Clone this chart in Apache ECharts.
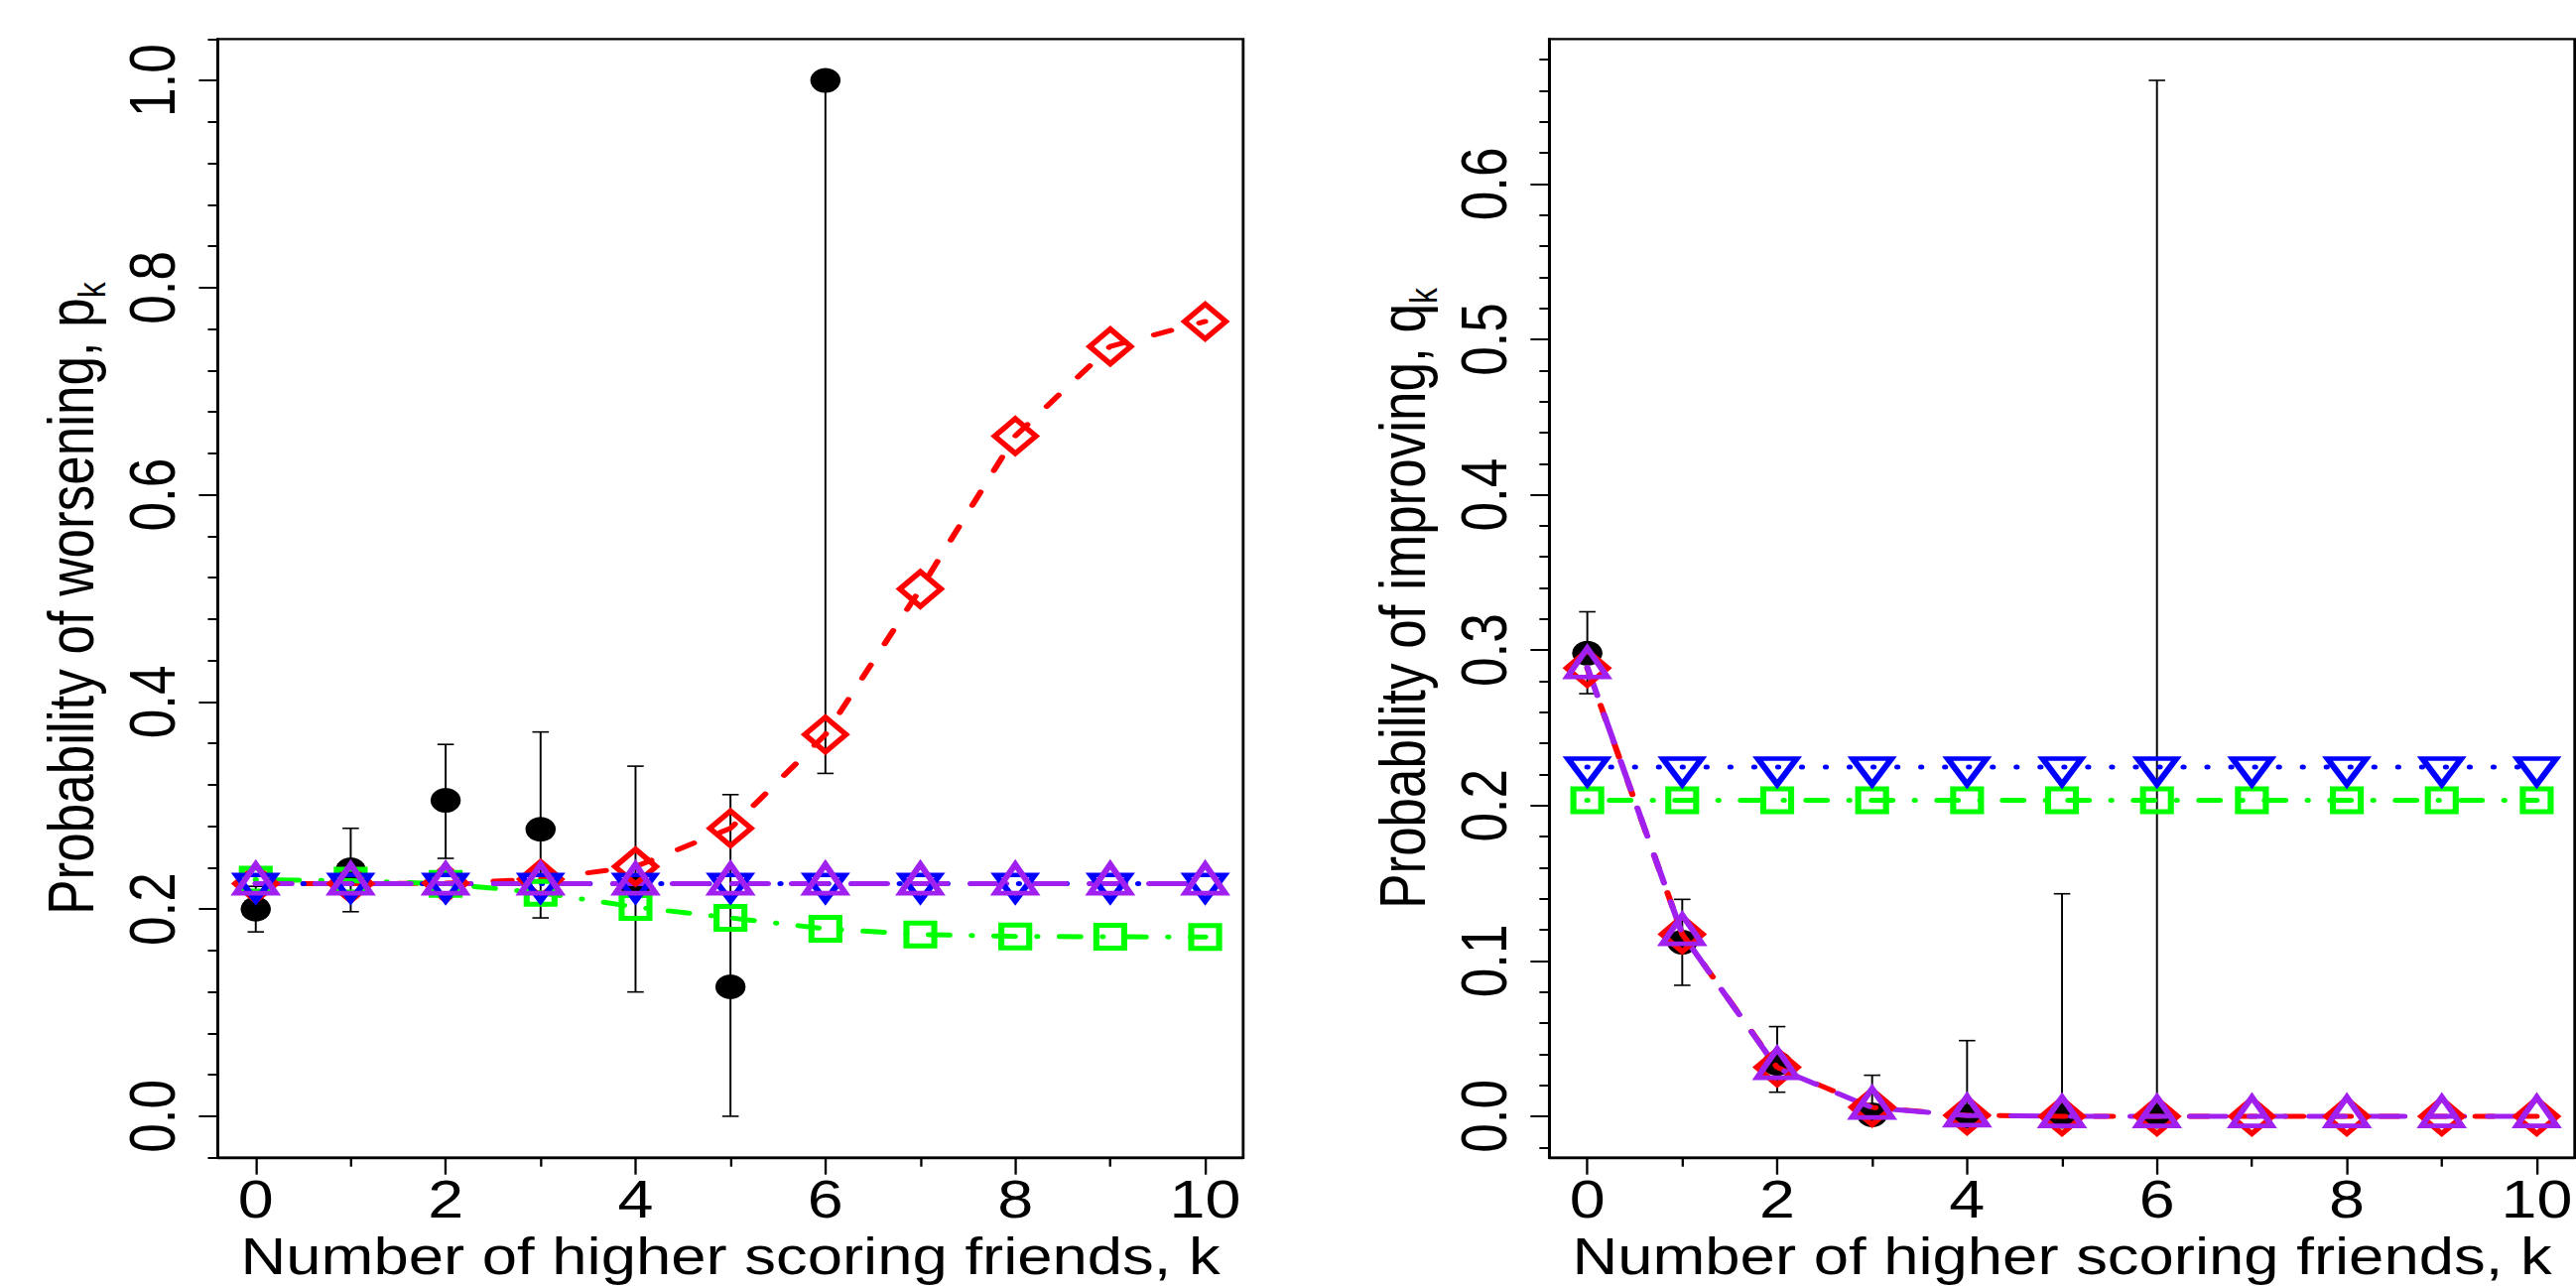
<!DOCTYPE html>
<html>
<head>
<meta charset="utf-8">
<title>Probability of worsening / improving</title>
<script src="https://cdn.jsdelivr.net/npm/echarts@6/dist/echarts.min.js"></script>
<style>
  html, body { margin: 0; padding: 0; background: #fff; overflow: hidden; }
  /* the reference plot is stretched sideways, so draw it narrower and stretch it */
  #chart { width: 2128px; height: 1297px; transform: scaleX(1.22); transform-origin: 0 0; }
</style>
</head>
<body>
<div id="chart"></div>
<script>
// number of higher scoring friends
var ks = [0, 1, 2, 3, 4, 5, 6, 7, 8, 9, 10];
var kObs = [0, 1, 2, 3, 4, 5, 6];

// left panel: probability of worsening p_k
var obsW = [0.200, 0.238, 0.305, 0.277, 0.222, 0.125, 1.000];
var loW  = [0.178, 0.1975, 0.249, 0.1915, 0.120, 0.000, 0.331];
var hiW  = [0.222, 0.278, 0.359, 0.371, 0.338, 0.3105, 1.000];
var redW    = [0.2247, 0.2247, 0.2250, 0.229, 0.241, 0.278, 0.3685, 0.509, 0.6567, 0.7432, 0.7673];
var greenW  = [0.2285, 0.2275, 0.2244, 0.2158, 0.2020, 0.1915, 0.1810, 0.1755, 0.1736, 0.1733, 0.1730];
var blueW   = [0.2247, 0.2247, 0.2247, 0.2247, 0.2247, 0.2247, 0.2247, 0.2247, 0.2247, 0.2247, 0.2247];
var purpleW = [0.2247, 0.2247, 0.2247, 0.2247, 0.2247, 0.2247, 0.2247, 0.2247, 0.2247, 0.2247, 0.2247];

// right panel: probability of improving q_k
var obsI = [0.298, 0.112, 0.034, 0.001, 0.000, 0.000, 0.000];
var loI  = [0.272, 0.0843, 0.0155, 0.000, 0.000, 0.000, 0.000];
var hiI  = [0.3247, 0.1396, 0.0577, 0.0264, 0.0487, 0.1432, 0.6667];
var redI    = [0.2885, 0.1172, 0.0315, 0.0058, 0.0006, 0, 0, 0, 0, 0, 0];
var greenI  = [0.2034, 0.2034, 0.2034, 0.2034, 0.2034, 0.2034, 0.2034, 0.2034, 0.2034, 0.2034, 0.2034];
var blueI   = [0.2247, 0.2247, 0.2247, 0.2247, 0.2247, 0.2247, 0.2247, 0.2247, 0.2247, 0.2247, 0.2247];
var purpleI = [0.2889, 0.1172, 0.0310, 0.0055, 0.0005, 0, 0, 0, 0, 0, 0];

// ticks
var xMajor = [0, 2, 4, 6, 8, 10];
var xMinor = [1, 3, 5, 7, 9];
var yMajorW = [0, 0.2, 0.4, 0.6, 0.8, 1.0];
var yMinorW = [-0.04, 0.04, 0.08, 0.12, 0.16, 0.24, 0.28, 0.32, 0.36, 0.44, 0.48, 0.52, 0.56,
               0.64, 0.68, 0.72, 0.76, 0.84, 0.88, 0.92, 0.96, 1.04];
var yMajorI = [0, 0.1, 0.2, 0.3, 0.4, 0.5, 0.6];
var yMinorI = [-0.02, 0.02, 0.04, 0.06, 0.08, 0.12, 0.14, 0.16, 0.18, 0.22, 0.24, 0.26, 0.28,
               0.32, 0.34, 0.36, 0.38, 0.42, 0.44, 0.46, 0.48, 0.52, 0.54, 0.56, 0.58,
               0.62, 0.64, 0.66, 0.68];

var FONT = "'Liberation Sans', Arial, Helvetica, sans-serif";
var RED = '#FF0000', GREEN = '#00FF00', BLUE = '#0000FF', PURPLE = '#A020F0';

function pairs(xs, ys) {
  return xs.map(function (x, i) { return [x, ys[i]]; });
}
function bars(xs, lo, hi) {
  return xs.map(function (x, i) { return [x, lo[i], hi[i]]; });
}

function xAxes(gi) {
  return [{
    type: 'value', gridIndex: gi, min: -0.4, max: 10.4, position: 'bottom',
    axisLine: { show: true, onZero: false, lineStyle: { color: '#000', width: 2.3 } },
    axisTick: { show: true, customValues: xMajor, length: 17, lineStyle: { color: '#000', width: 1.9 } },
    axisLabel: { show: true, customValues: xMajor, margin: 15, fontSize: 53, fontFamily: FONT, color: '#000' },
    splitLine: { show: false },
    name: 'Number of higher scoring friends, k', nameLocation: 'middle', nameGap: 77,
    nameTextStyle: { fontSize: 52, lineHeight: 44, fontFamily: FONT, color: '#000' }
  }, {
    type: 'value', gridIndex: gi, min: -0.4, max: 10.4, position: 'bottom',
    axisLine: { show: false, onZero: false },
    axisTick: { show: true, customValues: xMinor, length: 9, lineStyle: { color: '#000', width: 1.9 } },
    axisLabel: { show: false },
    splitLine: { show: false }
  }];
}

function yAxes(gi, min, max, major, minor, title, sub) {
  return [{
    type: 'value', gridIndex: gi, min: min, max: max, position: 'left',
    axisLine: { show: true, onZero: false, lineStyle: { color: '#000', width: 2.3 } },
    axisTick: { show: true, customValues: major, length: 15.6, lineStyle: { color: '#000', width: 2 } },
    axisLabel: {
      show: true, customValues: major, rotate: 90, margin: 27.5,
      fontSize: 53, fontFamily: FONT, color: '#000',
      formatter: function (v) { return v.toFixed(1); }
    },
    splitLine: { show: false },
    name: '{a|' + title + '}{b|' + sub + '}', nameLocation: 'middle', nameRotate: 90, nameGap: 95,
    nameTextStyle: {
      fontSize: 53, fontFamily: FONT, color: '#000',
      rich: {
        a: { fontSize: 53, lineHeight: 53, fontFamily: FONT, color: '#000', verticalAlign: 'top' },
        b: { fontSize: 32, lineHeight: 32, fontFamily: FONT, color: '#000', verticalAlign: 'top', padding: [28, 0, 0, 0] }
      }
    }
  }, {
    type: 'value', gridIndex: gi, min: min, max: max, position: 'left',
    axisLine: { show: false, onZero: false },
    axisTick: { show: true, customValues: minor, length: 8.2, lineStyle: { color: '#000', width: 2 } },
    axisLabel: { show: false },
    splitLine: { show: false }
  }];
}

// vertical error bar with small caps
function renderBar(params, api) {
  var x = api.value(0);
  var top = api.coord([x, api.value(2)]);
  var bot = api.coord([x, api.value(1)]);
  var cw = 6.8;
  var st = { stroke: '#000', lineWidth: 1.6 };
  return {
    type: 'group',
    children: [
      { type: 'line', shape: { x1: top[0], y1: top[1], x2: bot[0], y2: bot[1] }, style: st },
      { type: 'line', shape: { x1: top[0] - cw, y1: top[1], x2: top[0] + cw, y2: top[1] }, style: st },
      { type: 'line', shape: { x1: bot[0] - cw, y1: bot[1], x2: bot[0] + cw, y2: bot[1] }, style: st }
    ]
  };
}

function modelLine(ax, ys, color, dash, symbol, size, offset) {
  return {
    type: 'line', xAxisIndex: ax, yAxisIndex: ax,
    data: pairs(ks, ys),
    symbol: symbol, symbolSize: size, symbolOffset: offset, showSymbol: true,
    itemStyle: { color: 'rgba(0,0,0,0)', borderColor: color, borderWidth: 5 },
    lineStyle: { color: color, width: 5, type: dash, cap: 'round' },
    emphasis: { disabled: true },
    clip: false
  };
}

function panel(ax, obs, lo, hi, red, green, blue, purple) {
  return [{
    type: 'custom', xAxisIndex: ax, yAxisIndex: ax,
    data: bars(kObs, lo, hi),
    encode: { x: 0, y: [1, 2] },
    renderItem: renderBar
  }, {
    type: 'scatter', xAxisIndex: ax, yAxisIndex: ax,
    data: pairs(kObs, obs),
    symbol: 'circle', symbolSize: 25,
    itemStyle: { color: '#000', opacity: 1 },
    emphasis: { disabled: true }
  },
  modelLine(ax, red, RED, [15, 24.3], 'diamond', [34, 35], [0, 0]),
  modelLine(ax, green, GREEN, [0.1, 18.5, 17, 18.5], 'rect', [23, 23], [0, 0]),
  modelLine(ax, blue, BLUE, [0.1, 19.6], 'path://M0,0 L2,0 L1,1.732 Z', [32, 26], [0, 4.3]),
  modelLine(ax, purple, PURPLE, [29.5, 19.7], 'triangle', [33, 29], [0, -4.8])];
}

var chart = echarts.init(document.getElementById('chart'), null, { renderer: 'svg' });

var option = {
  animation: false,
  backgroundColor: '#fff',
  grid: [
    { left: 179.9, top: 39.3, width: 847, height: 1127.4, show: true, borderColor: '#000', borderWidth: 2.3, outerBoundsMode: 'none' },
    { left: 1279.8, top: 39.3, width: 847, height: 1127.4, show: true, borderColor: '#000', borderWidth: 2.3, outerBoundsMode: 'none' }
  ],
  xAxis: xAxes(0).concat(xAxes(1)),
  yAxis: yAxes(0, -0.04, 1.04, yMajorW, yMinorW, 'Probability of worsening, p', 'k')
    .concat(yAxes(1, -0.026667, 0.693333, yMajorI, yMinorI, 'Probability of improving, q', 'k')),
  series: panel(0, obsW, loW, hiW, redW, greenW, blueW, purpleW)
    .concat(panel(2, obsI, loI, hiI, redI, greenI, blueI, purpleI))
};

chart.setOption(option);
</script>
</body>
</html>
